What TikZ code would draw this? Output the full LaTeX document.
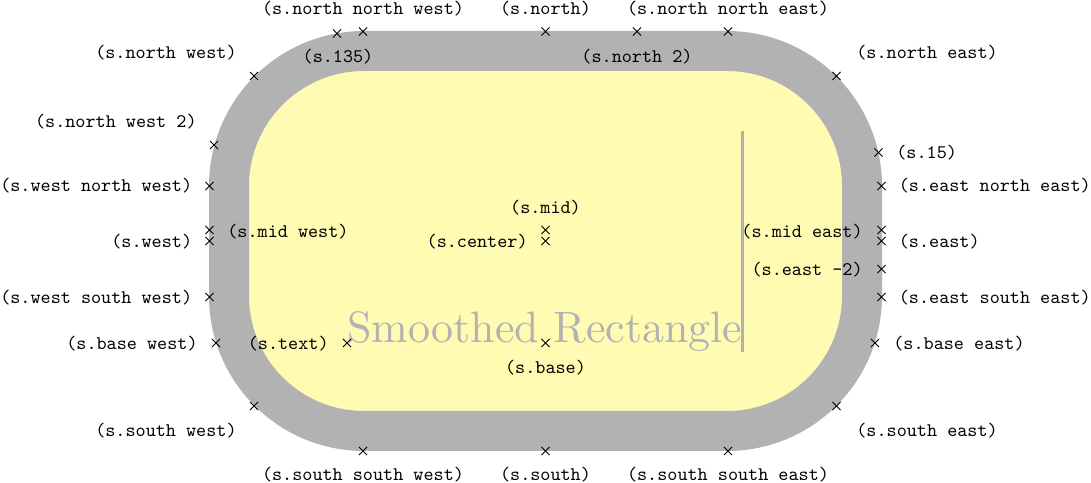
\documentclass[tikz,border=0pt]{standalone}
\usepackage{graphicx}
\usetikzlibrary{shapes.misc}
\begin{document}
\begin{tikzpicture}[x=0.52pt,y=-0.52pt,
  xm/.style={cross out,draw=black,line width=0.45pt,minimum size=4.2pt,inner sep=0pt,outer sep=0pt},
  lab/.style={font=\ttfamily,inner sep=0pt,text=black},
  shapeborder/.style={line width=20.8pt,draw=black!30,fill=yellow!30,rounded corners=70.2pt},
  guide/.style={draw=black!30,line width=1.56pt}
]
\useasboundingbox (0,0) rectangle (1091,483);
\draw[shapeborder] (229,51) rectangle (862,431);
\node[anchor=base west,inner sep=0pt,text=black!30] (txt) at (347,343) {\resizebox{205.4pt}{!}{Smoothed Rectangle}};
\coordinate (vt) at (742,131);
\coordinate (vb) at (742,352);
\draw[guide] (vt) -- (vb);
% marks
\node[xm] (nnw) at (363,31.5) {};
\node[xm] (a135) at (337,33.5) {};
\node[xm] (n) at (545.5,31.5) {};
\node[xm] (n2) at (637,31.5) {};
\node[xm] (nne) at (728,31.5) {};
\node[xm] (nw) at (254,76) {};
\node[xm] (ne) at (836.5,76) {};
\node[xm] (nw2) at (214,145) {};
\node[xm] (a15) at (878.5,152.5) {};
\node[xm] (wnw) at (209.5,186) {};
\node[xm] (w) at (209.5,241) {};
\node[xm] (mw) at (209.5,230) {};
\node[xm] (wsw) at (209.5,297) {};
\node[xm] (bw) at (216,343) {};
\node[xm] (t) at (347,343) {};
\node[xm] (b) at (545.5,343) {};
\node[xm] (c) at (545.5,241) {};
\node[xm] (m) at (545.5,230) {};
\node[xm] (me) at (881.5,230) {};
\node[xm] (e) at (881.5,241) {};
\node[xm] (e2) at (881.5,269) {};
\node[xm] (ene) at (881.5,186) {};
\node[xm] (ese) at (881.5,297) {};
\node[xm] (be) at (875,343) {};
\node[xm] (sw) at (254,406) {};
\node[xm] (se) at (836.5,406) {};
\node[xm] (ssw) at (363,451) {};
\node[xm] (s) at (545.5,451) {};
\node[xm] (sse) at (728,451) {};
% labels
\node[lab] (lnnw) at (363,9) {(s.north north west)};
\node[lab] (ln) at (545.5,9) {(s.north)};
\node[lab] (lnne) at (728,9) {(s.north north east)};
\node[lab] (l135) at (338,57) {(s.135)};
\node[lab] (ln2) at (637,57) {(s.north 2)};
\node[lab,anchor=east] (lnw) at (237,53) {(s.north west)};
\node[lab,anchor=west] (lne) at (856,53) {(s.north east)};
\node[lab,anchor=east] (lnw2) at (197,122) {(s.north west 2)};
\node[lab,anchor=east] (lwnw) at (192.5,186) {(s.west north west)};
\node[lab,anchor=east] (lw) at (192.5,242) {(s.west)};
\node[lab,anchor=west] (lmw) at (227,232) {(s.mid west)};
\node[lab,anchor=east] (lwsw) at (192.5,298) {(s.west south west)};
\node[lab,anchor=east] (lbw) at (198,344) {(s.base west)};
\node[lab,anchor=east] (lt) at (329,344) {(s.text)};
\node[lab] (lb) at (545.5,368) {(s.base)};
\node[lab,anchor=east] (lc) at (528,242) {(s.center)};
\node[lab] (lm) at (545.5,208) {(s.mid)};
\node[lab,anchor=east] (lme) at (863,232) {(s.mid east)};
\node[lab,anchor=east] (le2) at (863,270) {(s.east -2)};
\node[lab,anchor=west] (l15) at (896,153) {(s.15)};
\node[lab,anchor=west] (lene) at (898.5,186) {(s.east north east)};
\node[lab,anchor=west] (le) at (898.5,242) {(s.east)};
\node[lab,anchor=west] (lese) at (898.5,298) {(s.east south east)};
\node[lab,anchor=west] (lbe) at (893,344) {(s.base east)};
\node[lab,anchor=east] (lsw) at (237,431) {(s.south west)};
\node[lab,anchor=west] (lse) at (856,431) {(s.south east)};
\node[lab] (lssw) at (363,475) {(s.south south west)};
\node[lab] (ls) at (545.5,475) {(s.south)};
\node[lab] (lsse) at (728,475) {(s.south south east)};
\end{tikzpicture}
\end{document}
